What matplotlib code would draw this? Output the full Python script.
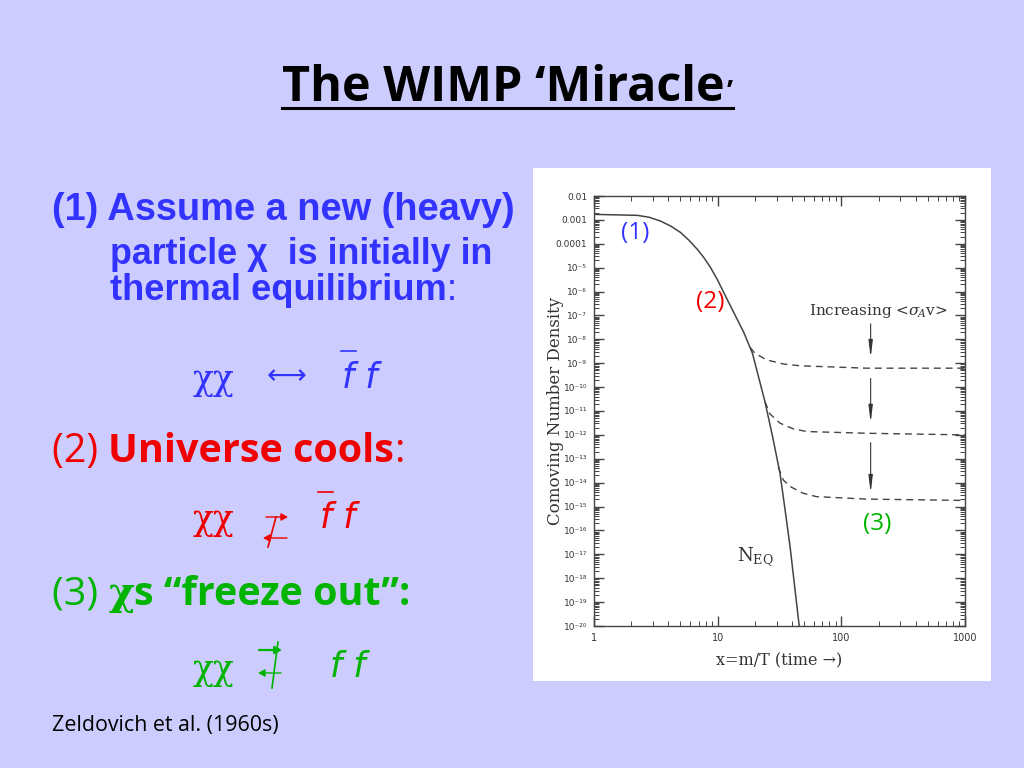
import math
import matplotlib
matplotlib.use("Agg")
import matplotlib.pyplot as plt
from matplotlib.lines import Line2D
from matplotlib.patches import Rectangle, FancyArrowPatch
from matplotlib.ticker import FixedLocator, FuncFormatter, LogLocator, NullFormatter

plt.rcParams["mathtext.fontset"] = "dejavuserif"

# ---------------- data ----------------
x_eq = [1.0, 2.24, 2.79, 3.46, 4.17, 5.02, 5.86, 6.84, 7.75, 8.77, 9.93, 11.2, 13.5, 16.3,
        19.1, 24.1, 27.8, 31.9, 35.1, 38.5, 45.4, 45.8]
y_eq = [1.7e-3, 1.55e-3, 1.29e-3, 8.9e-4, 5.5e-4, 2.95e-4, 1.4e-4, 5.9e-5, 2.6e-5, 1.0e-5,
        3.2e-6, 9.1e-7, 1.32e-7, 1.9e-8, 2.6e-9, 2.5e-11, 8.5e-13, 2.5e-14,
        7.2e-16, 2.1e-17, 1.26e-20, 1.0e-20]

x_fo1 = [18.3, 20.0, 24.9, 33.9, 46.3, 160, 1000]
y_fo1 = [4.6e-9, 2.6e-9, 1.38e-9, 9.3e-10, 7.8e-10, 6.2e-10, 6.2e-10]
x_fo2 = [24.1, 26.5, 31.9, 40.8, 52.5, 160, 1000]
y_fo2 = [2.5e-11, 7.5e-12, 3.1e-12, 1.8e-12, 1.38e-12, 1.17e-12, 1.0e-12]
x_fo3 = [30.9, 33.9, 38.5, 49.2, 63, 160, 1000]
y_fo3 = [4.5e-14, 1.3e-14, 6.9e-15, 3.6e-15, 2.6e-15, 2.05e-15, 1.8e-15]

arrow_x = 172.6
arrow_y_start = [4.4e-8, 2.3e-10, 4.7e-13]
arrow_y_end = [1.66e-9, 3.2e-12, 3.7e-15]

y_ticks = [10.0 ** k for k in range(-20, -1)]
x_ticks = [1, 10, 100, 1000]

BG = "#CCCCFF"
BLUE = "#3333FF"
RED = "#F00000"
GREEN = "#00B400"

W, H = 1024, 768
fig = plt.figure(figsize=(W / 100, H / 100), dpi=100, facecolor=BG)
renderer = fig.canvas.get_renderer()


def fx(px):
    return px / W


def fy(py):
    return 1 - py / H


def seq(px, py, pieces, size, target=None, color="black"):
    """Draw text pieces one after another; optionally scale to a target width (px)."""
    def build(sz):
        arts = []
        x = px
        for txt, kw in pieces:
            t = fig.text(fx(x), fy(py), txt, fontsize=sz, ha="left", va="baseline",
                         color=color, **kw)
            bb = t.get_window_extent(renderer)
            arts.append(t)
            x += bb.width
        return arts, x - px

    arts, w = build(size)
    if target is not None:
        for a in arts:
            a.remove()
        arts, w = build(size * target / w)
    return px + w


def hline(x0, x1, y, color, lw=1.2):
    fig.add_artist(Line2D([fx(x0), fx(x1)], [fy(y), fy(y)], transform=fig.transFigure,
                          color=color, lw=lw))


def farrow(x0, x1, y, color, lw=1.0):
    fig.add_artist(FancyArrowPatch(
        (fx(x0), fy(y)), (fx(x1), fy(y)), transform=fig.transFigure,
        arrowstyle="-|>,head_length=4,head_width=2.2", color=color, lw=lw,
        shrinkA=0, shrinkB=0))


def fseg(x0, y0, x1, y1, color, lw=1.2):
    fig.add_artist(Line2D([fx(x0), fx(x1)], [fy(y0), fy(y1)], transform=fig.transFigure,
                          color=color, lw=lw))


# white frame behind plot
fig.add_artist(Rectangle((fx(533), fy(681)), (991 - 533) / W, (681 - 168) / H,
                         transform=fig.transFigure, facecolor="white", edgecolor="none", zorder=0))

# ---------------- title ----------------
TITLE_KW = dict(family="Open Sans", fontweight="bold")
xe = seq(282, 101, [("The WIMP \u2018Miracle", TITLE_KW)], 34, target=443)
fig.text(fx(xe + 2), fy(101), "\u2019", fontsize=20, ha="left", va="baseline", **TITLE_KW)
hline(282, 733, 108, "black", lw=2.2)

# ---------------- left text ----------------
SANSB = dict(family=["Liberation Sans", "DejaVu Sans"], fontweight="bold")
SANSR = dict(family=["Liberation Sans", "DejaVu Sans"])
seq(52, 220, [("(1) Assume a new (heavy)", SANSB)], 26, target=463, color=BLUE)
seq(110, 264, [("particle \u03c7  is initially in", SANSB)], 26, target=383, color=BLUE)
seq(110, 300, [("thermal equilibrium", SANSB), (":", SANSR)], 26, target=347, color=BLUE)

CHI = dict(family="DejaVu Serif")
FF = dict(family="DejaVu Sans", style="italic")

# eq 1
seq(193, 390, [("\u03c7\u03c7", CHI)], 26, target=42, color=BLUE)
fig.text(fx(286), fy(376), "\u27f7", fontsize=20, family="DejaVu Sans", color=BLUE,
         ha="center", va="center")
seq(342, 388, [("f f", FF)], 25, color=BLUE)
hline(341, 356, 351, BLUE)

# (2)
OS = dict(family="Open Sans")
OSB = dict(family="Open Sans", fontweight="bold")
seq(52, 462, [("(2) ", OS), ("Universe cools", OSB), (":", OS)], 24, target=353, color=RED)
seq(193, 530, [("\u03c7\u03c7", CHI)], 26, target=42, color=RED)
farrow(266, 288, 517, RED)
farrow(287, 263, 538, RED)
fseg(276, 517, 268, 547, RED)
seq(320, 528, [("f f", FF)], 25, color=RED)
hline(318, 333, 492, RED)

# (3)
CHIB = dict(family="DejaVu Serif", fontweight="bold")
seq(52, 605, [("(3) ", OS), ("\u03c7", CHIB), ("s \u201cfreeze out\u201d:", OSB)], 24,
    target=358, color=GREEN)
seq(193, 680, [("\u03c7\u03c7", CHI)], 26, target=42, color=GREEN)
farrow(259, 282, 650, GREEN, lw=1.6)
farrow(281, 258, 673, GREEN)
fseg(278, 642, 272, 688, GREEN)
seq(330, 677, [("f f", FF)], 25, color=GREEN)

seq(52, 731, [("Zeldovich et al. (1960s)", OS)], 13.5, target=226, color="black")

# ---------------- plot ----------------
ax = fig.add_axes([594 / W, 1 - 626 / H, (965 - 594) / W, (626 - 196) / H])
ax.set_facecolor("white")
ax.set_xscale("log")
ax.set_yscale("log")
ax.set_xlim(1, 1000)
ax.set_ylim(1e-20, 1e-2)

LC = "#444444"
ax.plot(x_eq, y_eq, color=LC, lw=1.1, zorder=3)
for xs, ys in [(x_fo1, y_fo1), (x_fo2, y_fo2), (x_fo3, y_fo3)]:
    ax.plot(xs, ys, color=LC, lw=1.0, ls=(0, (5, 3.5)), zorder=2)

for y0, y1 in zip(arrow_y_start, arrow_y_end):
    ax.annotate("", xy=(arrow_x, y1), xytext=(arrow_x, y0),
                arrowprops=dict(arrowstyle="-|>,head_length=1.0,head_width=0.12",
                                color="#333333", lw=0.8, shrinkA=0, shrinkB=0))

ax.text(198, 1.55e-7, r"Increasing <$\sigma_{\!A}$v>", fontsize=11, family="DejaVu Serif",
        ha="center", va="center", color="#333333")
ax.text(14.3, 5e-18, r"N$_{\mathrm{EQ}}$", fontsize=13, family="DejaVu Serif",
        ha="left", va="baseline", color="#333333")

ax.yaxis.set_major_locator(FixedLocator(y_ticks))
ax.yaxis.set_minor_locator(LogLocator(base=10, subs=range(2, 10), numticks=100))
ax.yaxis.set_minor_formatter(NullFormatter())

SUP = str.maketrans("-0123456789", "\u207b\u2070\u00b9\u00b2\u00b3\u2074\u2075\u2076\u2077\u2078\u2079")


def yfmt(v, pos):
    k = int(round(math.log10(v)))
    if k == -2:
        return "0.01"
    if k == -3:
        return "0.001"
    if k == -4:
        return "0.0001"
    return "10" + str(k).translate(SUP)


ax.yaxis.set_major_formatter(FuncFormatter(yfmt))
ax.xaxis.set_major_locator(FixedLocator(x_ticks))
ax.xaxis.set_minor_locator(LogLocator(base=10, subs=range(2, 10), numticks=100))
ax.xaxis.set_minor_formatter(NullFormatter())
ax.xaxis.set_major_formatter(FuncFormatter(lambda v, p: "%d" % v))

ax.tick_params(which="both", direction="in", top=True, right=True, colors=LC, labelcolor="#333333")
ax.tick_params(which="major", length=7, width=1.0, labelsize=7, pad=5)
ax.tick_params(which="minor", length=3.5, width=0.7)
for lab in ax.get_yticklabels():
    lab.set_fontsize(6.5)
for s in ax.spines.values():
    s.set_color(LC)
    s.set_linewidth(1.0)

ax.set_ylabel("Comoving Number Density", fontsize=12, family="DejaVu Serif", color="#333333")
ax.yaxis.set_label_coords(-0.08, 0.5)
ax.set_xlabel("x=m/T (time \u2192)", fontsize=11.5, family="DejaVu Serif", color="#333333")
ax.xaxis.set_label_coords(0.5, -0.062)

# slide overlay labels on the plot
fig.text(fx(635), fy(233), "(1)", fontsize=17.5, family="Open Sans", color=BLUE,
         ha="center", va="center")
fig.text(fx(710), fy(302), "(2)", fontsize=17.5, family="Open Sans", color=RED,
         ha="center", va="center")
fig.text(fx(877), fy(524), "(3)", fontsize=17.5, family="Open Sans", color=GREEN,
         ha="center", va="center")

fig.savefig("out.png", dpi=100, facecolor=BG)
